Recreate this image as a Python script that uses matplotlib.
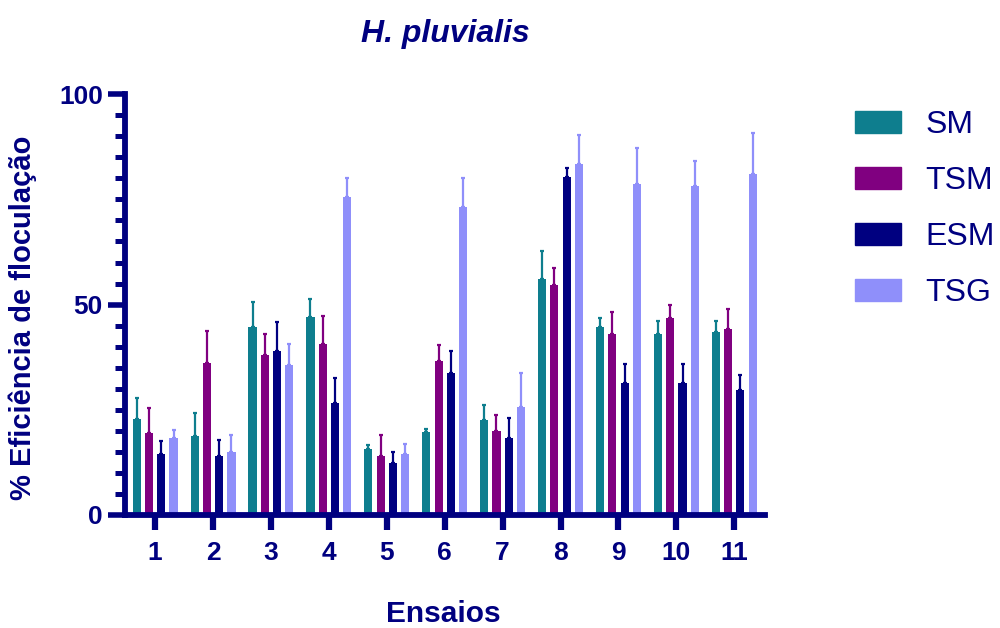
import matplotlib
matplotlib.use("Agg")
import matplotlib.pyplot as plt
import numpy as np
from matplotlib.patches import Patch
from matplotlib.ticker import MultipleLocator

plt.rcParams["font.family"] = ["Liberation Sans", "DejaVu Sans"]

# Data
ensaios = ["1", "2", "3", "4", "5", "6", "7", "8", "9", "10", "11"]
series = ["SM", "TSM", "ESM", "TSG"]

sm = [22.7, 18.8, 44.6, 47.1, 15.7, 19.7, 22.6, 56.1, 44.7, 43.1, 43.4]
tsm = [19.4, 36.1, 38.0, 40.6, 14.1, 36.6, 19.9, 54.6, 42.9, 46.7, 44.1]
esm = [14.5, 14.1, 38.9, 26.5, 12.4, 33.7, 18.2, 80.4, 31.3, 31.4, 29.6]
tsg = [18.3, 15.0, 35.6, 75.5, 14.4, 73.3, 25.6, 83.5, 78.6, 78.1, 81.0]

sm_err = [5.0, 5.5, 6.0, 4.2, 1.0, 0.8, 3.6, 6.7, 2.2, 3.1, 2.6]
tsm_err = [6.0, 7.6, 5.0, 6.6, 4.8, 3.7, 3.8, 4.1, 5.4, 3.2, 4.9]
esm_err = [3.0, 3.7, 7.0, 6.0, 2.5, 5.2, 4.8, 2.0, 4.5, 4.5, 3.7]
tsg_err = [2.0, 4.0, 5.0, 4.5, 2.4, 6.7, 8.2, 6.7, 8.7, 6.0, 9.8]

colors = ["#0E7E8E", "#800080", "#000080", "#8F8FFA"]
navy = "#000080"

fig = plt.figure(figsize=(10, 6.28), dpi=100)
ax = fig.add_axes([0.125, 0.18, 0.64, 0.67])

x = np.arange(1, len(ensaios) + 1)
pitch = 0.212
width = 0.14
values = [sm, tsm, esm, tsg]
errors = [sm_err, tsm_err, esm_err, tsg_err]

for i, (vals, errs, c) in enumerate(zip(values, errors, colors)):
    pos = x + (i - 1.5) * pitch
    ax.bar(pos, vals, width=width, color=c, zorder=2)
    ax.errorbar(pos, vals, yerr=[np.zeros(len(errs)), errs], fmt="none",
                ecolor=c, elinewidth=1.6, capsize=1.6, capthick=1.6, zorder=2)

ax.set_xlim(0.48, 11.53)
ax.set_ylim(0, 100)
ax.set_xticks(x)
ax.set_xticklabels(ensaios)
ax.set_yticks([0, 50, 100])
ax.yaxis.set_minor_locator(MultipleLocator(5))

for side in ["top", "right"]:
    ax.spines[side].set_visible(False)
for side in ["left", "bottom"]:
    ax.spines[side].set_color(navy)
    ax.spines[side].set_linewidth(4.2)

ax.tick_params(axis="y", which="major", length=12, width=4, color=navy,
               labelcolor=navy, labelsize=19, pad=4)
ax.tick_params(axis="y", which="minor", length=7, width=3.6, color=navy)
ax.tick_params(axis="x", which="major", length=11, width=4.5, color=navy,
               labelcolor=navy, labelsize=19, pad=8)
for lab in ax.get_xticklabels() + ax.get_yticklabels():
    lab.set_fontweight("bold")

ax.set_xlabel("Ensaios", fontsize=21.5, fontweight="bold", color=navy,
              va="center", ha="center")
ax.xaxis.set_label_coords(0.4977, -0.235)
ax.set_ylabel("% Eficiência de floculação", fontsize=21, fontweight="bold",
              color=navy, va="center", ha="center")
ax.yaxis.set_label_coords(-0.159, 0.469)
fig.text(0.445, 0.946, "H. pluvialis", fontsize=23, fontweight="bold",
         fontstyle="italic", color=navy, ha="center", va="center")

handles = [Patch(facecolor=c, edgecolor=c) for c in colors]
leg = ax.legend(handles, series, loc="upper left",
                bbox_to_anchor=(0.855, 0.825), bbox_transform=fig.transFigure,
                frameon=False, fontsize=23, handlelength=1.45, handleheight=0.68,
                handletextpad=0.75, labelspacing=0.82, borderpad=0,
                borderaxespad=0)
for t in leg.get_texts():
    t.set_color(navy)

fig.savefig("out.png", dpi=100)
